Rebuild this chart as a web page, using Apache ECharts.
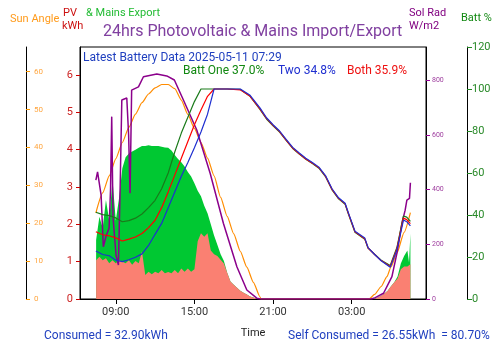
<!DOCTYPE html>
<html>
<head>
<meta charset="utf-8">
<script src="https://cdn.jsdelivr.net/npm/echarts@6/dist/echarts.min.js"></script>
<style>
html,body{margin:0;padding:0;background:#fff;}
#c{width:500px;height:353px;}
</style>
</head>
<body>
<div id="c"></div>
<script>
// ---- DATA (hours since 2025-05-10 00:00) ----
const timeTicks = [9, 15, 21, 27];
const kwhTicks = [0, 1, 2, 3, 4, 5, 6];
const sunTicks = [0, 10, 20, 30, 40, 50, 60];
const radTicks = [0, 200, 400, 600, 800];
const battTicks = [0, 20, 40, 60, 80, 100, 120];

const areaHours = [7.5,7.75,8,8.25,8.5,8.75,9,9.25,9.5,9.75,10,10.25,10.5,10.75,11,11.25,11.5,11.75,12,12.25,12.5,12.75,13,13.25,13.5,13.75,14,14.25,14.5,14.75,15,15.25,15.5,15.75,16,16.25,16.5,16.75,17,17.25,17.5,17.75,18,18.25,18.5,18.75,19,19.25,19.5,19.75,20,20.25,28.25,28.5,28.75,29,29.25,29.5,29.75,30,30.25,30.5,30.75,31,31.25,31.375,31.48];
const pvTotal = [1.58,2.2,1.9,2.65,2.1,3.2,2.1,2.7,3.5,3.8,3.9,3.95,4.0,4.05,4.1,4.1,4.12,4.1,4.1,4.1,4.08,4.06,4.05,3.98,3.86,3.75,3.66,3.55,3.4,3.28,3.1,2.9,2.75,2.5,2.3,2.0,1.7,1.45,1.2,1.02,0.7,0.47,0.38,0.3,0.22,0.17,0.12,0.07,0.04,0.01,0,0,0,0,0.01,0.04,0.09,0.15,0.22,0.34,0.45,0.6,0.95,1.15,1.3,0.98,1.75];
const pvSelf = [1.04,1.13,1.04,1.09,0.96,1.04,0.96,1.04,1.0,0.96,1.04,0.92,1.02,0.96,1.27,0.64,0.73,0.66,0.73,0.69,0.78,0.69,0.72,0.69,0.78,0.69,0.82,0.73,0.82,0.73,0.8,1.55,1.76,1.67,1.76,1.3,1.2,1.15,1.05,0.95,0.7,0.47,0.38,0.3,0.22,0.17,0.12,0.07,0.04,0.01,0,0,0,0,0.01,0.04,0.09,0.15,0.22,0.34,0.45,0.55,0.8,0.87,0.87,0.9,0.93];

const sunHours = [7.48,8,8.5,9,9.5,10,10.5,11,11.5,12,12.5,13,13.5,14,14.5,15,15.5,16,16.5,17,17.5,18,18.5,19,19.5,20,20.08,28.33,28.75,29.25,29.69,30,30.45,31,31.48];
const sunAngle = [22.7,28,32.5,37,41.3,45.3,48.8,51.8,54.1,55.7,56.6,56.6,55.5,52.5,48.7,45,41.3,37.2,32.5,26.8,21.8,17.2,12.6,8.4,4.4,0.6,0,0,1.2,3.3,5.9,8.5,12.1,17.6,22.8];

const radHours = [7.48,7.61,7.76,7.88,8.05,8.26,8.49,8.6,8.69,8.79,9.02,9.2,9.33,9.46,9.84,9.98,10.09,10.21,10.73,11.11,12.13,12.89,13.47,14.16,15.18,16.2,17.21,18.24,19.0,19.76,20.0,28.5,28.8,29.43,30.07,30.45,30.83,31.08,31.21,31.41,31.48];
const solRad = [435,465,460,380,191,230,260,400,667,300,160,124,400,728,735,600,387,764,776,813,823,816,801,728,618,460,277,118,33,3,0,0,5,21,82,167,277,325,362,368,425];

const battHours = [7.48,8,8.5,9,9.5,10,10.5,11,11.5,12,12.5,13,13.5,14,14.5,15,15.5,16,16.5,17.5,18.5,19.25,20,20.5,21,21.5,22,22.5,23,23.5,24,24.5,25,25.5,26,26.5,26.75,27.25,28,28.25,28.75,29.25,29.94,30.45,30.95,31.2,31.48];
const battOne = [41.3,40.2,39.7,38.6,36.8,37.3,38.5,40.5,43.5,47,52.5,60,70,79,86.5,94,100,100,100,100,99.8,96.5,90.3,85.7,82.5,79.5,75.5,71.7,69,66.5,64.5,62.3,58.3,52,47.7,45.1,40.5,31.8,28.5,24.2,21.3,18.5,16,24.5,39.5,39,37.0];
const battBoth = [32,30.6,30.1,29.1,27.6,28.5,29.5,31.2,34,37.5,43.5,51,59,67,75,83,90,96.5,100,100,99.6,96.5,90.5,86,82.7,79.7,75.7,71.9,69.2,66.7,64.7,62.5,58.5,52.2,47.9,45.3,40.7,32,28.7,24.3,21.2,18.3,15.5,24,38.5,37.8,35.9];
const battTwo = [22.9,21.2,20.6,18.5,17.8,18.7,19.9,21.5,25.5,30.8,36,43.5,51,58.5,65,72,79.5,88,100,100,100,97,91,86.3,83,80,76,72.2,69.5,67,65,62.8,58.8,52.5,48.2,45.6,41,32.3,29,24.5,21.2,18.2,15.1,23.3,37.6,36.8,34.8];

const pairs = (xs, ys) => xs.map((x, i) => [x, ys[i]]);
const hhmm = v => String(Math.round(v) % 24).padStart(2, '0') + ':00';

const FONT = 'Roboto';
const chart = echarts.init(document.getElementById('c'), null, {renderer: 'canvas'});

function yAx(o) {
  return Object.assign({
    type: 'value', splitLine: {show: false},
    axisLine: {show: true, onZero: false, lineStyle: {color: '#000', width: 1}},
  }, o);
}

const option = {
  animation: false,
  backgroundColor: '#fff',
  textStyle: {fontFamily: FONT},
  grid: {left: 80, top: 47, width: 346, height: 252, show: true, borderColor: '#000', borderWidth: 1, backgroundColor: '#fff'},
  xAxis: {
    type: 'value', min: 6.27, max: 32.67,
    name: 'Time', nameLocation: 'middle', nameGap: 29,
    nameTextStyle: {color: '#222', fontSize: 11, fontFamily: FONT},
    axisLine: {show: true, lineStyle: {color: '#000'}},
    axisTick: {show: true, length: 5, customValues: timeTicks, lineStyle: {color: '#000'}},
    axisLabel: {customValues: timeTicks, formatter: hhmm, color: '#333', fontSize: 11, margin: 8, fontFamily: FONT},
    splitLine: {show: false}
  },
  yAxis: [
    yAx({position: 'left', offset: 0, min: 0, max: 6.75,
      axisTick: {show: true, length: 4, customValues: kwhTicks, lineStyle: {color: '#cc0000'}},
      axisLabel: {customValues: kwhTicks, color: '#cc2222', fontSize: 11, margin: 7, fontFamily: FONT}}),
    yAx({position: 'left', offset: 54, min: 0, max: 66.5,
      axisTick: {show: true, inside: true, length: 4, customValues: sunTicks, lineStyle: {color: '#ff9900'}},
      axisLabel: {inside: true, customValues: sunTicks, color: '#ffa640', fontSize: 8, margin: 8, fontFamily: FONT}}),
    yAx({position: 'right', offset: 0, min: 0, max: 921.7,
      axisTick: {show: true, length: 4, customValues: radTicks, lineStyle: {color: '#990099'}},
      axisLabel: {customValues: radTicks, color: '#a040a0', fontSize: 7, margin: 6, fontFamily: FONT}}),
    yAx({position: 'right', offset: 41, min: 0, max: 120,
      axisTick: {show: true, length: 5, customValues: battTicks, lineStyle: {color: '#228822'}},
      axisLabel: {customValues: battTicks, color: '#2a8a2a', fontSize: 11, margin: 5, fontFamily: FONT}})
  ],
  series: [
    {type: 'line', name: 'PV', yAxisIndex: 0, data: pairs(areaHours, pvTotal), showSymbol: false,
      lineStyle: {width: 0}, areaStyle: {color: '#00c832', opacity: 1}, z: 1},
    {type: 'line', name: 'Self', yAxisIndex: 0, data: pairs(areaHours, pvSelf), showSymbol: false,
      lineStyle: {width: 0}, areaStyle: {color: '#fa8072', opacity: 1}, z: 2},
    {type: 'line', name: 'Sun', yAxisIndex: 1, data: pairs(sunHours, sunAngle), showSymbol: false,
      smooth: 0.2, smoothMonotone: 'x', lineStyle: {color: '#ff8c00', width: 1.2}, z: 3},
    {type: 'line', name: 'Rad', yAxisIndex: 2, data: pairs(radHours, solRad), showSymbol: false,
      lineStyle: {color: '#8b008b', width: 1.5}, z: 4},
    {type: 'line', name: 'One', yAxisIndex: 3, data: pairs(battHours, battOne), showSymbol: false,
      lineStyle: {color: '#1a7a1a', width: 1.2}, z: 5},
    {type: 'line', name: 'Both', yAxisIndex: 3, data: pairs(battHours, battBoth), showSymbol: false,
      lineStyle: {color: '#ff0000', width: 1.2}, z: 6},
    {type: 'line', name: 'Two', yAxisIndex: 3, data: pairs(battHours, battTwo), showSymbol: false,
      lineStyle: {color: '#1f2fd0', width: 1.2}, z: 7}
  ],
  graphic: [
    {type: 'text', left: 10, top: 14, style: {text: 'Sun Angle', fill: '#ff9a1a', font: '11px Roboto'}},
    {type: 'text', left: 63, top: 8, style: {text: 'PV', fill: '#cc1111', font: '11px Roboto'}},
    {type: 'text', left: 62, top: 21, style: {text: 'kWh', fill: '#cc1111', font: '11px Roboto'}},
    {type: 'text', left: 86, top: 8, style: {text: '& Mains Export', fill: '#22bb33', font: '11px Roboto'}},
    {type: 'text', left: 103, top: 24, style: {text: '24hrs Photovoltaic & Mains Import/Export', fill: '#8040a0', font: '16px Roboto'}},
    {type: 'text', left: 409, top: 8, style: {text: 'Sol Rad', fill: '#800080', font: '11px Roboto'}},
    {type: 'text', left: 409, top: 21, style: {text: 'W/m2', fill: '#800080', font: '11px Roboto'}},
    {type: 'text', left: 461, top: 13, style: {text: 'Batt %', fill: '#118811', font: '11px Roboto'}},
    {type: 'text', left: 83, top: 52, z: 100, style: {text: 'Latest Battery Data 2025-05-11 07:29', fill: '#1f3fbf', font: '12px Roboto'}},
    {type: 'text', left: 183, top: 65, z: 100, style: {text: 'Batt One 37.0%', fill: '#118811', font: '12px Roboto'}},
    {type: 'text', left: 278, top: 65, z: 100, style: {text: 'Two 34.8%', fill: '#1f2fd0', font: '12px Roboto'}},
    {type: 'text', left: 347, top: 65, z: 100, style: {text: 'Both 35.9%', fill: '#ee1111', font: '12px Roboto'}},
    {type: 'text', left: 44, top: 330, style: {text: 'Consumed = 32.90kWh', fill: '#1f3fbf', font: '12px Roboto'}},
    {type: 'text', left: 288, top: 330, style: {text: 'Self Consumed = 26.55kWh  = 80.70%', fill: '#1f3fbf', font: '12px Roboto'}}
  ]
};
chart.setOption(option);
</script>
</body>
</html>
